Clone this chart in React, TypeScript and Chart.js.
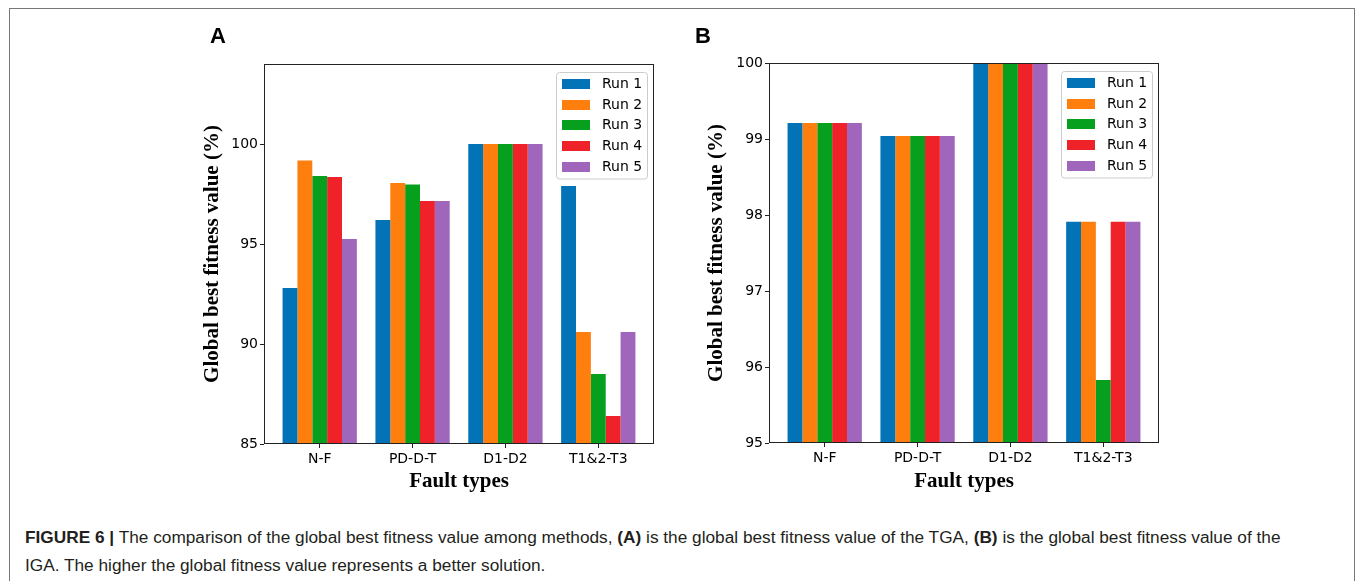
import React, { useEffect, useRef } from "react";
import { Chart, registerables } from "chart.js";

Chart.register(...registerables);

// ---------- data ----------
const categories = ["N-F", "PD-D-T", "D1-D2", "T1&2-T3"];
const runLabels = ["Run 1", "Run 2", "Run 3", "Run 4", "Run 5"];
const runColors = ["#0173b6", "#ff7f0e", "#06a01e", "#ef2129", "#a066bb"];

// Panel A (TGA)
const tgaRun1 = [92.8, 96.2, 100, 97.9];
const tgaRun2 = [99.17, 98.05, 100, 90.6];
const tgaRun3 = [98.4, 97.98, 100, 88.5];
const tgaRun4 = [98.35, 97.15, 100, 86.4];
const tgaRun5 = [95.25, 97.15, 100, 90.6];
const tgaTicks = [85, 90, 95, 100];

// Panel B (IGA)
const igaRun1 = [99.21, 99.04, 100, 97.91];
const igaRun2 = [99.21, 99.04, 100, 97.91];
const igaRun3 = [99.21, 99.04, 100, 95.83];
const igaRun4 = [99.21, 99.04, 100, 97.91];
const igaRun5 = [99.21, 99.04, 100, 97.91];
const igaTicks = [95, 96, 97, 98, 99, 100];

const xTitle = "Fault types";
const yTitle = "Global best fitness value (%)";

// ---------- plugins ----------
const framePlugin = {
  id: "frame",
  afterDraw(chart: any) {
    const { ctx, chartArea: a } = chart;
    ctx.save();
    ctx.strokeStyle = "#222";
    ctx.lineWidth = 1;
    const l = Math.round(a.left) + 0.5;
    const t = Math.round(a.top) + 0.5;
    const r = Math.round(a.right) - 0.5;
    const b = Math.round(a.bottom) - 0.5;
    ctx.strokeRect(l, t, r - l, b - t);
    ctx.restore();
  },
};

const boxLegendPlugin = {
  id: "boxLegend",
  afterDraw(chart: any) {
    const { ctx, chartArea: a } = chart;
    const ds = chart.data.datasets;
    const w = 91;
    const rowH = 20.7;
    const h = 106.5;
    const x0 = Math.round(a.right - 7 - w);
    const y0 = Math.round(a.top + 7.5);
    ctx.save();
    ctx.beginPath();
    (ctx as any).roundRect(x0 + 0.5, y0 + 0.5, w, h, 3);
    ctx.fillStyle = "rgba(255,255,255,0.85)";
    ctx.fill();
    ctx.strokeStyle = "#cccccc";
    ctx.lineWidth = 1;
    ctx.stroke();
    ctx.font = "14px 'DejaVu Sans', sans-serif";
    ctx.textBaseline = "middle";
    ctx.textAlign = "left";
    ds.forEach((d: any, i: number) => {
      const cy = y0 + 11.8 + i * rowH;
      ctx.fillStyle = d.backgroundColor;
      ctx.fillRect(x0 + 6, Math.round(cy - 5), 28, 10);
      ctx.fillStyle = "#000";
      ctx.fillText(d.label, x0 + 46, cy + 0.5);
    });
    ctx.restore();
  },
};

// ---------- panel ----------
type PanelProps = {
  left: number;
  width: number;
  height: number;
  padTop: number;
  padRight: number;
  yAxisWidth: number;
  xAxisHeight: number;
  yTitlePad: number;
  xTitlePad: number;
  series: number[][];
  yMin: number;
  yMax: number;
  yTicks: number[];
};

function BarPanel(p: PanelProps) {
  const ref = useRef<HTMLCanvasElement | null>(null);
  useEffect(() => {
    if (!ref.current) return;
    const chart = new Chart(ref.current, {
      type: "bar",
      data: {
        datasets: p.series.map((vals, k) => ({
          label: runLabels[k],
          data: categories.map((_, i) => ({ x: i, y: vals[i] })),
          backgroundColor: runColors[k],
          borderWidth: 0,
          categoryPercentage: 0.8,
          barPercentage: 1.0,
        })),
      },
      options: {
        animation: false,
        responsive: false,
        maintainAspectRatio: false,
        devicePixelRatio: 1,
        layout: { padding: { left: 0, top: p.padTop, right: p.padRight, bottom: 0 } },
        plugins: {
          legend: { display: false },
          title: { display: false },
          tooltip: { enabled: false },
        },
        scales: {
          x: {
            type: "linear",
            min: -0.6,
            max: 3.6,
            offset: false,
            afterBuildTicks: (axis: any) => {
              axis.ticks = categories.map((_, i) => ({ value: i }));
            },
            afterFit: (scale: any) => {
              scale.height = p.xAxisHeight;
            },
            ticks: {
              callback: (v: any) => categories[Math.round(Number(v))] ?? "",
              font: { family: "'DejaVu Sans', sans-serif", size: 14 },
              color: "#000",
              padding: 3,
              maxRotation: 0,
              autoSkip: false,
            },
            grid: {
              offset: false,
              drawOnChartArea: false,
              drawTicks: true,
              tickLength: 4,
              tickColor: "#222",
              tickWidth: 1,
            },
            border: { display: false },
            title: {
              display: true,
              text: xTitle,
              color: "#000",
              font: { family: "'Liberation Serif', 'Times New Roman', serif", size: 21, weight: "bold", lineHeight: 1 },
              padding: { top: 0, bottom: p.xTitlePad },
            },
          },
          y: {
            type: "linear",
            min: p.yMin,
            max: p.yMax,
            afterBuildTicks: (axis: any) => {
              axis.ticks = p.yTicks.map((v) => ({ value: v }));
            },
            afterFit: (scale: any) => {
              scale.width = p.yAxisWidth;
            },
            ticks: {
              callback: (v: any) => String(v),
              font: { family: "'DejaVu Sans', sans-serif", size: 14 },
              color: "#000",
              padding: 2,
            },
            grid: {
              drawOnChartArea: false,
              drawTicks: true,
              tickLength: 4,
              tickColor: "#222",
              tickWidth: 1,
            },
            border: { display: false },
            title: {
              display: true,
              text: yTitle,
              color: "#000",
              font: { family: "'Liberation Serif', 'Times New Roman', serif", size: 21, weight: "bold", lineHeight: 1 },
              padding: { top: p.yTitlePad, bottom: 0 },
            },
          },
        },
      } as any,
      plugins: [framePlugin, boxLegendPlugin],
    });
    return () => chart.destroy();
  }, []);
  return (
    <div style={{ position: "absolute", left: p.left, top: 0, width: p.width, height: p.height }}>
      <canvas ref={ref} width={p.width} height={p.height} style={{ display: "block" }} />
    </div>
  );
}

export default function App() {
  return (
    <div
      style={{
        position: "absolute",
        left: 0,
        top: 0,
        width: 1357,
        height: 581,
        overflow: "hidden",
        background: "#fff",
      }}
    >
      <div
        style={{
          position: "absolute",
          left: 9,
          top: 8,
          width: 1346,
          height: 700,
          border: "1px solid #777",
          boxSizing: "border-box",
        }}
      />
      <BarPanel
        left={150}
        width={530}
        height={500}
        padTop={64}
        padRight={26}
        yAxisWidth={114}
        xAxisHeight={56}
        yTitlePad={52}
        xTitlePad={7.5}
        series={[tgaRun1, tgaRun2, tgaRun3, tgaRun4, tgaRun5]}
        yMin={85}
        yMax={104}
        yTicks={tgaTicks}
      />
      <BarPanel
        left={650}
        width={530}
        height={500}
        padTop={63}
        padRight={21}
        yAxisWidth={119}
        xAxisHeight={57}
        yTitlePad={56}
        xTitlePad={7.5}
        series={[igaRun1, igaRun2, igaRun3, igaRun4, igaRun5]}
        yMin={95}
        yMax={100}
        yTicks={igaTicks}
      />
      <div
        style={{
          position: "absolute",
          left: 210,
          top: 25,
          fontFamily: "'Liberation Sans', Arial, sans-serif",
          fontWeight: "bold",
          fontSize: 22,
          lineHeight: "22px",
          color: "#000",
        }}
      >
        A
      </div>
      <div
        style={{
          position: "absolute",
          left: 695,
          top: 25,
          fontFamily: "'Liberation Sans', Arial, sans-serif",
          fontWeight: "bold",
          fontSize: 22,
          lineHeight: "22px",
          color: "#000",
        }}
      >
        B
      </div>
      <div
        style={{
          position: "absolute",
          left: 25,
          top: 523,
          fontFamily: "'Liberation Sans', Arial, sans-serif",
          fontSize: 17.25,
          lineHeight: "28px",
          color: "#231f20",
          whiteSpace: "nowrap",
        }}
      >
        <b>FIGURE 6 |</b> The comparison of the global best fitness value among methods, <b>(A)</b> is the global best
        fitness value of the TGA, <b>(B)</b> is the global best fitness value of the
        <br />
        IGA. The higher the global fitness value represents a better solution.
      </div>
    </div>
  );
}
